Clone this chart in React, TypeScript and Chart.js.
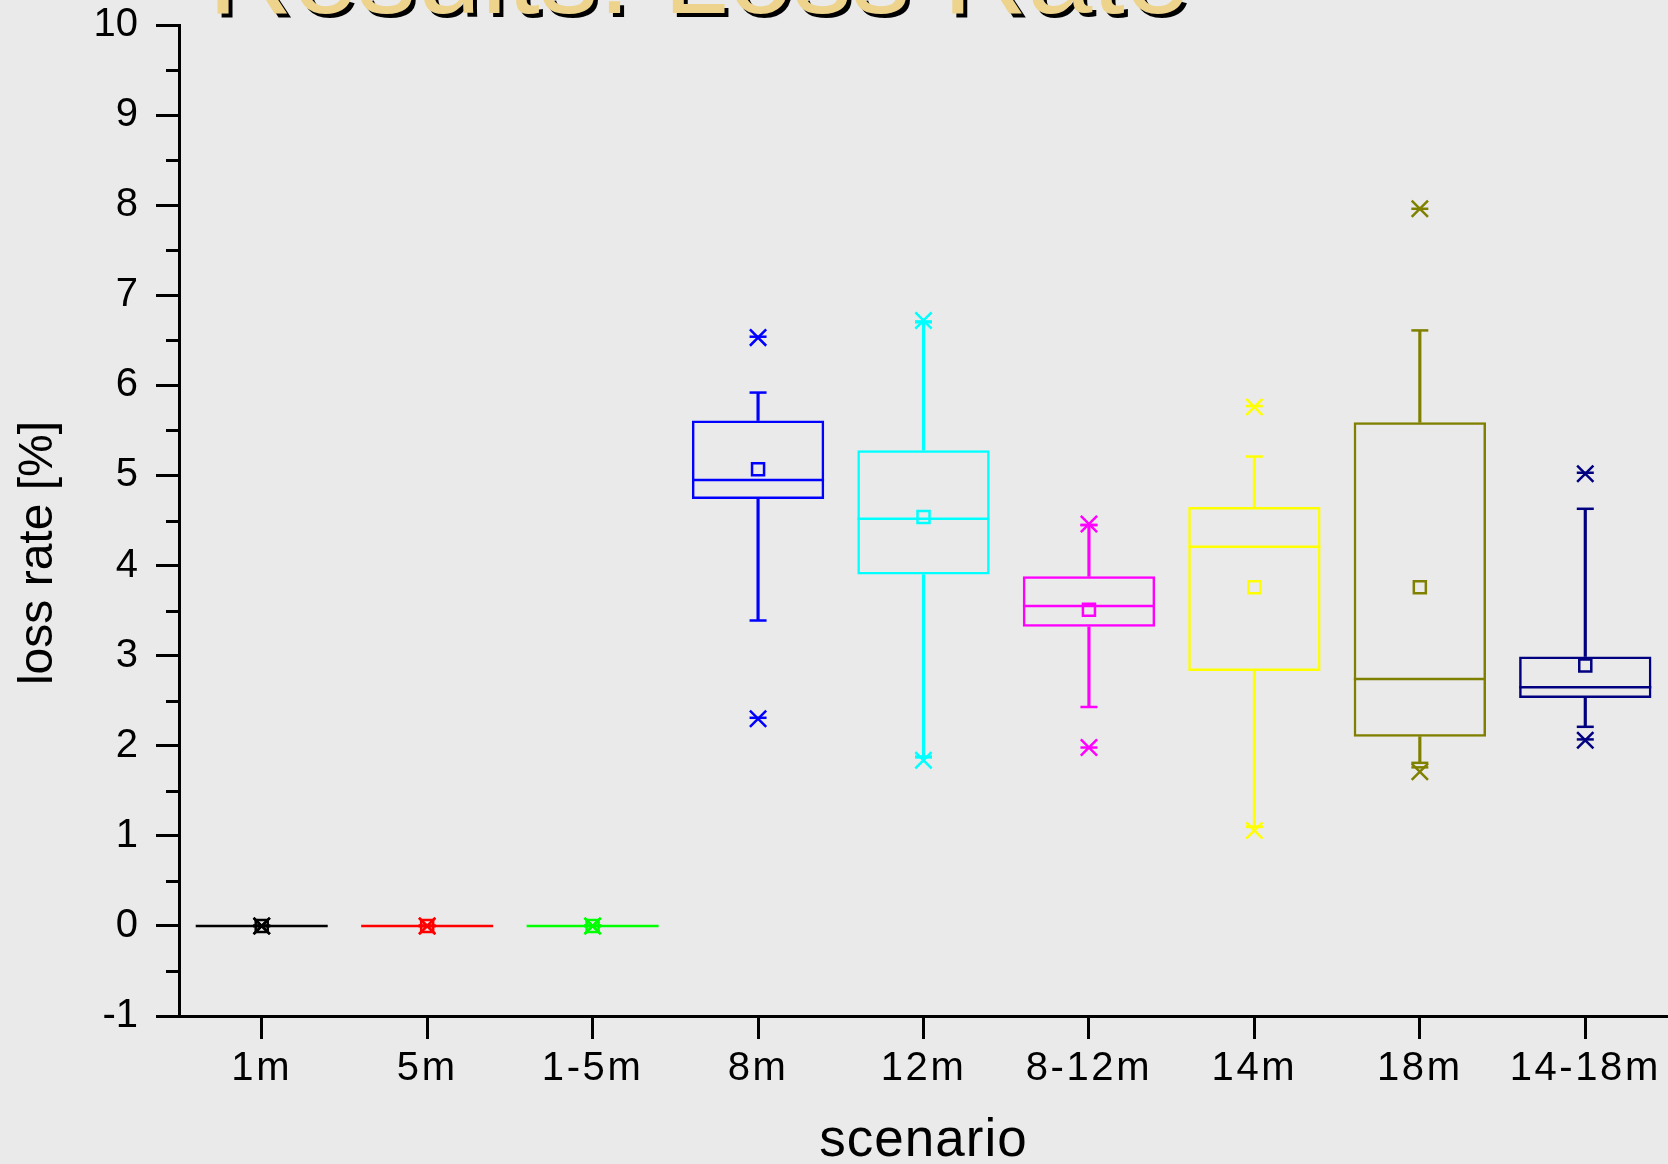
import React, { useEffect, useRef } from 'react';
import { Chart, registerables } from 'chart.js';

Chart.register(...registerables);

// ---- data ----
const categories = ['1m', '5m', '1-5m', '8m', '12m', '8-12m', '14m', '18m', '14-18m'];
const boxLow = [0, 0, 0, 4.74, 3.9, 3.32, 2.83, 2.1, 2.53];
const boxHigh = [0, 0, 0, 5.61, 5.28, 3.88, 4.65, 5.59, 2.99];
const medians = [0, 0, 0, 4.95, 4.52, 3.55, 4.21, 2.74, 2.65];
const means = [0, 0, 0, 5.07, 4.54, 3.51, 3.76, 3.76, 2.89];
const whiskerLow = [0, 0, 0, 3.39, 1.87, 2.43, 1.1, 1.81, 2.21];
const whiskerHigh = [0, 0, 0, 5.92, 6.7, 4.45, 5.21, 6.61, 4.63];
const minValues = [0, 0, 0, 2.3, 1.84, 1.98, 1.06, 1.71, 2.06];
const maxValues = [0, 0, 0, 6.53, 6.72, 4.46, 5.76, 7.96, 5.02];
const p1Values = [0, 0, 0, 2.31, 1.88, 1.98, 1.1, 1.76, 2.07];
const p99Values = [0, 0, 0, 6.54, 6.71, 4.45, 5.77, 7.96, 5.03];
const colors = ['#000000', '#FF0000', '#00FF00', '#0000FF', '#00FFFF', '#FF00FF', '#FFFF00', '#808000', '#000080'];
const yMin = -1;
const yMax = 10;
const yStep = 1;
const minorTicks = [-0.5, 0.5, 1.5, 2.5, 3.5, 4.5, 5.5, 6.5, 7.5, 8.5, 9.5];
const titleText = 'Results: Loss Rate';
const xTitle = 'scenario';
const yTitle = 'loss rate [%]';

const FONT = '"Liberation Sans", Arial, sans-serif';
const BG = '#EAEAEA';
const LW = 2.5;

const decorPlugin = {
  id: 'decor',
  beforeDraw(chart: any) {
    const ctx = chart.ctx;
    ctx.save();
    ctx.fillStyle = BG;
    ctx.fillRect(0, 0, chart.width, chart.height);
    ctx.restore();
  },
  afterDatasetsDraw(chart: any) {
    // x tick labels (drawn in a later layer) get a little letter spacing
    (chart.ctx as any).letterSpacing = '2.6px';
  },
  afterDraw(chart: any) {
    const ctx = chart.ctx;
    (ctx as any).letterSpacing = '0px';
    const yScale = chart.scales.y;
    const area = chart.chartArea;
    ctx.save();
    // minor ticks
    ctx.strokeStyle = '#000';
    ctx.lineWidth = 3;
    minorTicks.forEach((v) => {
      const y = Math.round(yScale.getPixelForValue(v)) + 0.5;
      ctx.beginPath();
      ctx.moveTo(area.left - 13, y);
      ctx.lineTo(area.left, y);
      ctx.stroke();
    });
    // chart title with shadow
    ctx.font = `117px ${FONT}`;
    ctx.textAlign = 'left';
    ctx.textBaseline = 'alphabetic';
    ctx.fillStyle = '#000000';
    ctx.fillText(titleText, 212, 17);
    ctx.fillStyle = '#EDD38B';
    ctx.fillText(titleText, 208, 13);
    // x axis title
    (ctx as any).letterSpacing = '1px';
    ctx.font = `53px ${FONT}`;
    ctx.textAlign = 'center';
    ctx.fillStyle = '#000';
    ctx.fillText(xTitle, (area.left + area.right) / 2, 1156);
    (ctx as any).letterSpacing = '0px';
    // y axis title
    ctx.font = `48px ${FONT}`;
    ctx.translate(52, 553);
    ctx.rotate(-Math.PI / 2);
    ctx.fillText(yTitle, 0, 0);
    ctx.restore();
  },
};

const zeroPadding = (scale: any) => {
  scale.paddingLeft = 0;
  scale.paddingRight = 0;
  scale.paddingTop = 0;
  scale.paddingBottom = 0;
};

export default function App() {
  const ref = useRef<HTMLCanvasElement | null>(null);

  useEffect(() => {
    document.body.style.margin = '0';
    document.body.style.background = BG;
    const canvas = ref.current;
    if (!canvas) return;

    const pointSet = (data: number[], style: string, radius: number, order: number) => ({
      type: 'line' as const,
      data,
      showLine: false,
      pointStyle: style,
      pointRadius: radius,
      pointHoverRadius: radius,
      pointBorderColor: colors,
      pointBackgroundColor: 'rgba(0,0,0,0)',
      pointBorderWidth: LW,
      clip: false,
      order,
    });

    const chart = new Chart(canvas, {
      type: 'bar',
      data: {
        labels: categories,
        datasets: [
          {
            type: 'bar',
            data: categories.map((_, i) => (whiskerLow[i] < boxLow[i] ? [whiskerLow[i], boxLow[i]] : null)) as any,
            backgroundColor: colors,
            borderWidth: 0,
            barThickness: LW,
            grouped: false,
            order: 10,
          } as any,
          {
            type: 'bar',
            data: categories.map((_, i) => (whiskerHigh[i] > boxHigh[i] ? [boxHigh[i], whiskerHigh[i]] : null)) as any,
            backgroundColor: colors,
            borderWidth: 0,
            barThickness: LW,
            grouped: false,
            order: 10,
          } as any,
          {
            type: 'bar',
            data: categories.map((_, i) => [boxLow[i], boxHigh[i]]) as any,
            backgroundColor: 'rgba(0,0,0,0)',
            borderColor: colors,
            borderWidth: LW,
            borderSkipped: false,
            barPercentage: 0.8,
            categoryPercentage: 1,
            grouped: false,
            order: 9,
          } as any,
          pointSet(medians, 'line', 66, 8) as any,
          pointSet(whiskerLow, 'line', 8.5, 7) as any,
          pointSet(whiskerHigh, 'line', 8.5, 7) as any,
          pointSet(p1Values, 'line', 8.5, 6) as any,
          pointSet(p99Values, 'line', 8.5, 6) as any,
          pointSet(minValues, 'crossRot', 11.5, 5) as any,
          pointSet(maxValues, 'crossRot', 11.5, 5) as any,
          pointSet(means, 'rect', 8.5, 4) as any,
        ],
      },
      options: {
        responsive: false,
        animation: false,
        devicePixelRatio: 1,
        events: [],
        layout: { autoPadding: false, padding: { top: 25, left: 0, right: 0, bottom: 0 } },
        plugins: {
          legend: { display: false },
          tooltip: { enabled: false },
          title: { display: false },
        },
        scales: {
          x: {
            type: 'category',
            offset: true,
            grid: {
              display: true,
              drawOnChartArea: false,
              drawTicks: true,
              offset: false,
              tickLength: 23,
              tickWidth: 3,
              tickColor: '#000',
            },
            border: { display: true, color: '#000', width: 3 },
            ticks: {
              color: '#000',
              font: { family: FONT, size: 40 },
              padding: 6,
              maxRotation: 0,
              minRotation: 0,
              autoSkip: false,
              z: 1,
            },
            afterFit: (scale: any) => {
              scale.height = 148;
              zeroPadding(scale);
            },
          },
          y: {
            type: 'linear',
            min: yMin,
            max: yMax,
            grid: {
              display: true,
              drawOnChartArea: false,
              drawTicks: true,
              tickLength: 23,
              tickWidth: 3,
              tickColor: '#000',
            },
            border: { display: true, color: '#000', width: 3 },
            ticks: {
              stepSize: yStep,
              color: '#000',
              font: { family: FONT, size: 40 },
              padding: 18,
            },
            afterFit: (scale: any) => {
              scale.width = 179;
              zeroPadding(scale);
            },
          },
        },
      } as any,
      plugins: [decorPlugin],
    });

    return () => chart.destroy();
  }, []);

  return (
    <div style={{ width: 1668, height: 1164, overflow: 'hidden' }}>
      <canvas ref={ref} width={1668} height={1164} style={{ display: 'block' }} />
    </div>
  );
}
